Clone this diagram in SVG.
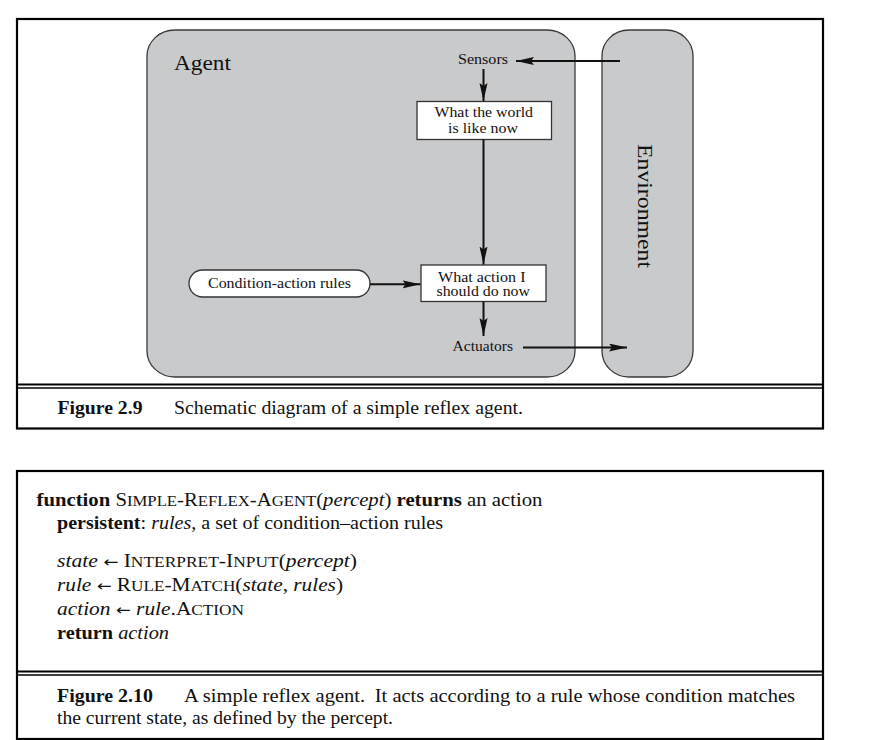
<svg xmlns="http://www.w3.org/2000/svg" width="872" height="740" viewBox="0 0 872 740">
<defs>
<style>
text{font-family:"Liberation Serif","Times New Roman",serif;fill:#111}
.lbl{font-size:14.5px}
.big{font-size:22px}
.code{font-size:18px}
.sc{font-size:14.5px}
.b{font-weight:bold}
.i{font-style:italic}
.arr{font-family:"DejaVu Sans",sans-serif;font-size:15px}
.region{fill:#c9cacc;stroke:#3a3a3a;stroke-width:1.3}
.box{fill:#fff;stroke:#333;stroke-width:1.3}
.frame{fill:none;stroke:#000;stroke-width:2.2}
.conn{stroke:#111;stroke-width:2;fill:none;marker-end:url(#ah)}
</style>
<marker id="ah" markerUnits="userSpaceOnUse" markerWidth="20" markerHeight="10" refX="18" refY="4" orient="auto">
<path d="M0,0 L18,4 L0,8 L3,4 z" fill="#111"/>
</marker>
</defs>
<rect width="872" height="740" fill="#fff"/>

<g id="figure-2-9-frame">
<rect class="frame" x="17" y="19" width="806" height="409.5"/>
<line x1="17" y1="384.5" x2="823" y2="384.5" stroke="#000" stroke-width="2"/>
<line x1="17" y1="388" x2="823" y2="388" stroke="#000" stroke-width="1.3"/>
</g>

<g id="agent">
<rect class="region" x="147" y="30" width="428" height="347" rx="28" ry="26"/>
<text class="big" x="174" y="70" textLength="57" lengthAdjust="spacingAndGlyphs">Agent</text>
</g>

<g id="environment">
<rect class="region" x="602" y="30" width="91" height="347" rx="27" ry="26"/>
<text class="big" transform="translate(638,144) rotate(90)" x="0" y="0" textLength="124" lengthAdjust="spacingAndGlyphs">Environment</text>
</g>

<g id="sensors">
<text class="lbl" x="458" y="64" textLength="50" lengthAdjust="spacingAndGlyphs">Sensors</text>
</g>

<g id="world-state">
<rect class="box" x="417" y="101.5" width="134.5" height="38"/>
<text class="lbl" x="434.5" y="117" textLength="98.5" lengthAdjust="spacingAndGlyphs">What the world</text>
<text class="lbl" x="448" y="133" textLength="70" lengthAdjust="spacingAndGlyphs">is like now</text>
</g>

<g id="action-choice">
<rect class="box" x="421" y="265" width="125" height="36.5"/>
<text class="lbl" x="438" y="281.5" textLength="87.5" lengthAdjust="spacingAndGlyphs">What action I</text>
<text class="lbl" x="436.5" y="296" textLength="93.5" lengthAdjust="spacingAndGlyphs">should do now</text>
</g>

<g id="rules">
<rect class="box" x="189" y="270" width="181" height="27" rx="13.5"/>
<text class="lbl" x="208" y="288" textLength="143" lengthAdjust="spacingAndGlyphs">Condition-action rules</text>
</g>

<g id="actuators">
<text class="lbl" x="452.5" y="351" textLength="60.5" lengthAdjust="spacingAndGlyphs">Actuators</text>
</g>

<g id="connectors">
<line class="conn" x1="620" y1="61" x2="516" y2="61"/>
<line class="conn" x1="483.5" y1="69" x2="483.5" y2="101"/>
<line class="conn" x1="483.5" y1="139.5" x2="483.5" y2="264.5"/>
<line class="conn" x1="370" y1="284.3" x2="420.5" y2="284.3"/>
<line class="conn" x1="483.5" y1="301.5" x2="483.5" y2="336"/>
<line class="conn" x1="523" y1="347.5" x2="627" y2="347.5"/>
</g>

<g id="caption-2-9">
<text class="code b" x="57.5" y="413.5" textLength="85" lengthAdjust="spacingAndGlyphs">Figure 2.9</text>
<text class="code" x="174" y="413.5" textLength="349" lengthAdjust="spacingAndGlyphs">Schematic diagram of a simple reflex agent.</text>
</g>

<g id="figure-2-10-frame">
<rect class="frame" x="17" y="471" width="806" height="268"/>
<line x1="17" y1="671.5" x2="823" y2="671.5" stroke="#000" stroke-width="2"/>
<line x1="17" y1="675" x2="823" y2="675" stroke="#000" stroke-width="1.3"/>
</g>

<g id="pseudocode">
<text class="code" x="36.5" y="505.5" textLength="506" lengthAdjust="spacingAndGlyphs"><tspan class="b">function</tspan> S<tspan class="sc">IMPLE</tspan>-R<tspan class="sc">EFLEX</tspan>-A<tspan class="sc">GENT</tspan>(<tspan class="i">percept</tspan>) <tspan class="b">returns</tspan> an action</text>
<text class="code" x="57" y="528.5" textLength="386" lengthAdjust="spacingAndGlyphs"><tspan class="b">persistent</tspan>: <tspan class="i">rules</tspan>, a set of condition–action rules</text>
<text class="code" x="57" y="567" textLength="300" lengthAdjust="spacingAndGlyphs"><tspan class="i">state</tspan> <tspan class="arr">←</tspan> I<tspan class="sc">NTERPRET</tspan>-I<tspan class="sc">NPUT</tspan>(<tspan class="i">percept</tspan>)</text>
<text class="code" x="57" y="591" textLength="286" lengthAdjust="spacingAndGlyphs"><tspan class="i">rule</tspan> <tspan class="arr">←</tspan> R<tspan class="sc">ULE</tspan>-M<tspan class="sc">ATCH</tspan>(<tspan class="i">state</tspan>, <tspan class="i">rules</tspan>)</text>
<text class="code" x="57" y="615" textLength="187" lengthAdjust="spacingAndGlyphs"><tspan class="i">action</tspan> <tspan class="arr">←</tspan> <tspan class="i">rule</tspan>.A<tspan class="sc">CTION</tspan></text>
<text class="code" x="57" y="639" textLength="112" lengthAdjust="spacingAndGlyphs"><tspan class="b">return</tspan> <tspan class="i">action</tspan></text>
</g>

<g id="caption-2-10">
<text class="code b" x="57" y="701.5" textLength="96" lengthAdjust="spacingAndGlyphs">Figure 2.10</text>
<text class="code" x="184" y="701.5" textLength="611" lengthAdjust="spacingAndGlyphs">A simple reflex agent. <tspan dx="4">It</tspan> acts according to a rule whose condition matches</text>
<text class="code" x="57" y="723.5" textLength="336" lengthAdjust="spacingAndGlyphs">the current state, as defined by the percept.</text>
</g>
</svg>
